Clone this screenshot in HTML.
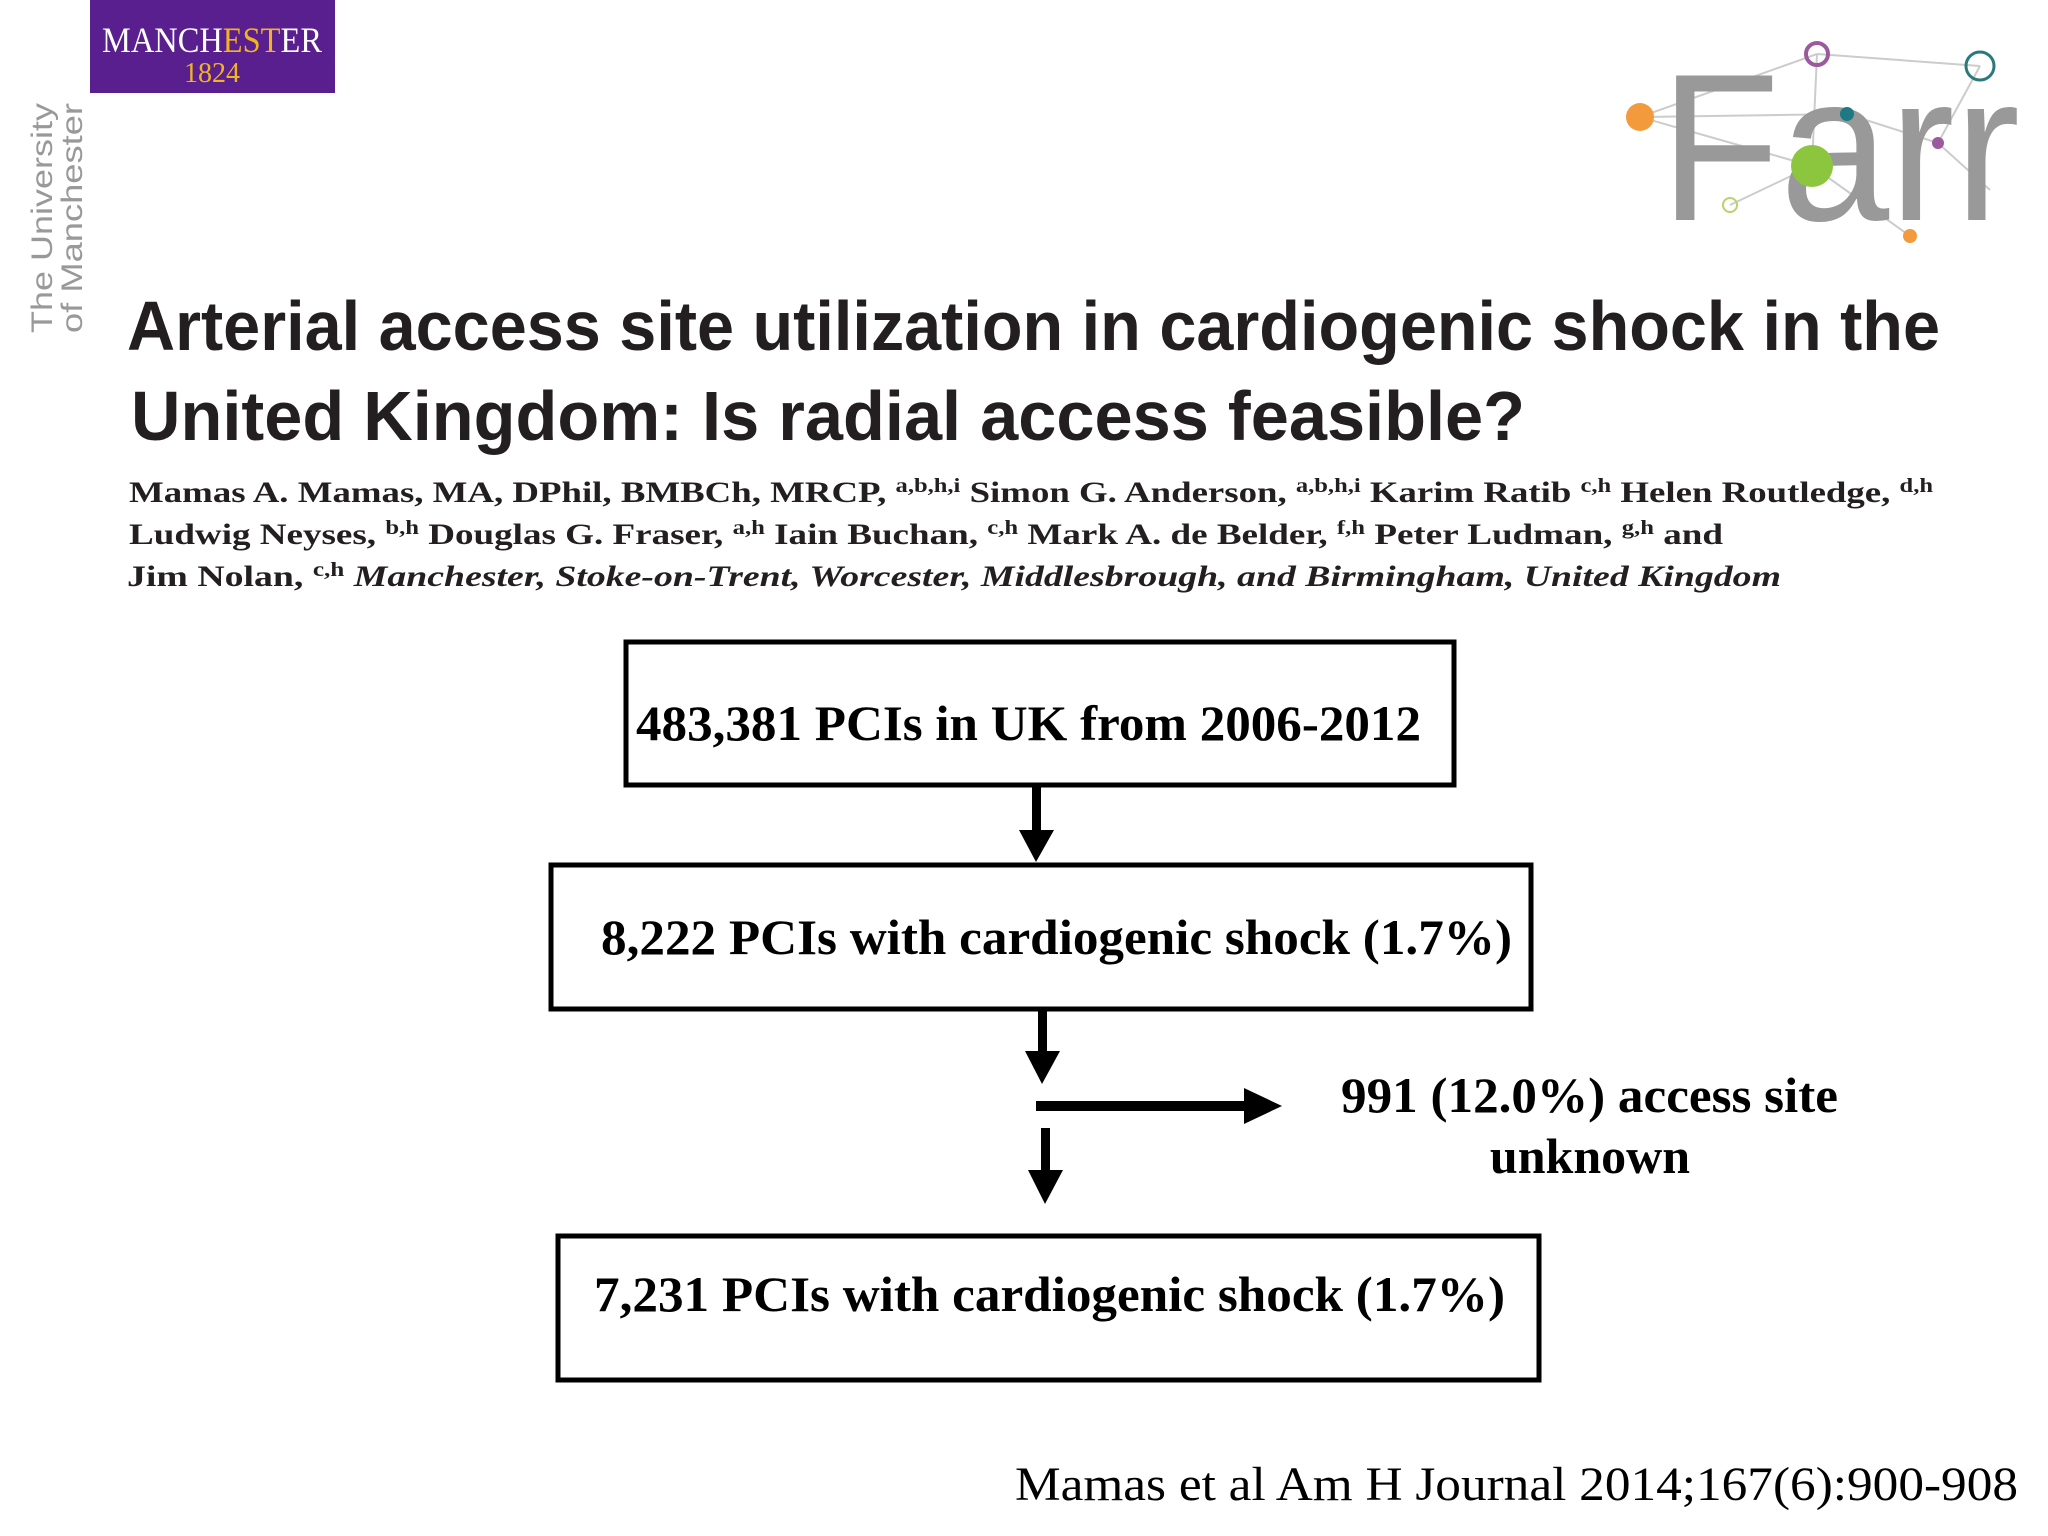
<!DOCTYPE html>
<html><head><meta charset="utf-8"><style>
html,body{margin:0;padding:0;background:#fff}
svg{display:block}
</style></head><body>
<svg width="2048" height="1536" viewBox="0 0 2048 1536" xmlns="http://www.w3.org/2000/svg">
<g>
<rect x="90" y="0" width="245" height="93" fill="#5a1f8f"/>
<text x="212" y="52" text-anchor="middle" font-family="Liberation Serif, serif" font-size="36" fill="#fff" textLength="220" lengthAdjust="spacingAndGlyphs">MANCH<tspan fill="#f0b323">EST</tspan>ER</text>
<text x="212" y="82" text-anchor="middle" font-family="Liberation Serif, serif" font-size="28" fill="#f0b323">1824</text>
</g>
<text transform="translate(52,333) rotate(-90)" font-family="Liberation Sans, sans-serif" font-size="30" fill="#999" textLength="230" lengthAdjust="spacingAndGlyphs">The University</text>
<text transform="translate(82,333) rotate(-90)" font-family="Liberation Sans, sans-serif" font-size="30" fill="#999" textLength="230" lengthAdjust="spacingAndGlyphs">of Manchester</text>
<g>
<g stroke="#ccc" stroke-width="2" fill="none">
<line x1="1640" y1="117" x2="1817" y2="54"/><line x1="1817" y1="54" x2="1980" y2="66"/><line x1="1640" y1="117" x2="1847" y2="114"/><line x1="1817" y1="54" x2="1812" y2="166"/><line x1="1847" y1="114" x2="1938" y2="143"/><line x1="1980" y1="66" x2="1938" y2="143"/><line x1="1730" y1="205" x2="1812" y2="166"/><line x1="1812" y1="166" x2="1910" y2="236"/><line x1="1938" y1="143" x2="1990" y2="190"/><line x1="1640" y1="117" x2="1812" y2="166"/>
</g>
<text x="1660" y="220" font-family="Liberation Sans, sans-serif" font-size="210" fill="#999" textLength="360" lengthAdjust="spacingAndGlyphs">Farr</text>
<circle cx="1640" cy="117" r="14" fill="#f39a3c"/>
<circle cx="1817" cy="54" r="11" fill="none" stroke="#9b5a9b" stroke-width="4"/>
<circle cx="1980" cy="66" r="14" fill="none" stroke="#2b7a7a" stroke-width="3"/>
<circle cx="1847" cy="114" r="7" fill="#1d7a85"/>
<circle cx="1812" cy="166" r="21" fill="#8cc63f"/>
<circle cx="1938" cy="143" r="6" fill="#9b5a9b"/>
<circle cx="1730" cy="205" r="7" fill="none" stroke="#b7d36b" stroke-width="2"/>
<circle cx="1910" cy="236" r="7" fill="#f39a3c"/>
</g>
<g font-family="Liberation Sans, sans-serif" font-weight="bold" fill="#231f20">
<text x="127" y="350" font-size="70" textLength="1813" lengthAdjust="spacingAndGlyphs">Arterial access site utilization in cardiogenic shock in the</text>
<text x="131" y="440" font-size="70" textLength="1394" lengthAdjust="spacingAndGlyphs">United Kingdom: Is radial access feasible?</text>
</g>
<g font-family="Liberation Serif, serif" font-weight="bold" fill="#231f20" font-size="30">
<text x="129" y="502" textLength="1804" lengthAdjust="spacingAndGlyphs">Mamas A. Mamas, MA, DPhil, BMBCh, MRCP, <tspan font-size="20" dy="-10">a,b,h,i</tspan><tspan dy="10"> Simon G. Anderson, </tspan><tspan font-size="20" dy="-10">a,b,h,i</tspan><tspan dy="10"> Karim Ratib </tspan><tspan font-size="20" dy="-10">c,h</tspan><tspan dy="10"> Helen Routledge, </tspan><tspan font-size="20" dy="-10">d,h</tspan></text>
<text x="129" y="544" textLength="1594" lengthAdjust="spacingAndGlyphs">Ludwig Neyses, <tspan font-size="20" dy="-10">b,h</tspan><tspan dy="10"> Douglas G. Fraser, </tspan><tspan font-size="20" dy="-10">a,h</tspan><tspan dy="10"> Iain Buchan, </tspan><tspan font-size="20" dy="-10">c,h</tspan><tspan dy="10"> Mark A. de Belder, </tspan><tspan font-size="20" dy="-10">f,h</tspan><tspan dy="10"> Peter Ludman, </tspan><tspan font-size="20" dy="-10">g,h</tspan><tspan dy="10"> and</tspan></text>
<text x="127" y="586" textLength="1654" lengthAdjust="spacingAndGlyphs">Jim Nolan, <tspan font-size="20" dy="-10">c,h</tspan><tspan dy="10" font-style="italic"> Manchester, Stoke-on-Trent, Worcester, Middlesbrough, and Birmingham, United Kingdom</tspan></text>
</g>
<g fill="none" stroke="#000" stroke-width="5">
<rect x="626" y="642" width="828" height="143"/>
<rect x="551" y="865" width="980" height="144"/>
<rect x="558" y="1236" width="981" height="144"/>
</g>
<g font-family="Liberation Serif, serif" font-weight="bold" font-size="50" fill="#000">
<text x="636" y="740" textLength="785" lengthAdjust="spacingAndGlyphs">483,381 PCIs in UK from 2006-2012</text>
<text x="601" y="954" textLength="911" lengthAdjust="spacingAndGlyphs">8,222 PCIs with cardiogenic shock (1.7%)</text>
<text x="594" y="1311" textLength="911" lengthAdjust="spacingAndGlyphs">7,231 PCIs with cardiogenic shock (1.7%)</text>
<text x="1341" y="1112" textLength="497" lengthAdjust="spacingAndGlyphs">991 (12.0%) access site</text>
<text x="1590" y="1173" text-anchor="middle">unknown</text>
</g>
<g fill="#000">
<rect x="1032" y="787" width="9" height="45"/><polygon points="1019,830 1054,830 1036,862"/>
<rect x="1038" y="1011" width="9" height="42"/><polygon points="1025,1051 1060,1051 1042,1084"/>
<rect x="1036" y="1101" width="210" height="10"/><polygon points="1244,1088 1282,1106 1244,1124"/>
<rect x="1041" y="1128" width="9" height="44"/><polygon points="1028,1170 1063,1170 1045,1204"/>
</g>
<text x="2018" y="1500" text-anchor="end" font-family="Liberation Serif, serif" font-size="48" fill="#000" textLength="1003" lengthAdjust="spacingAndGlyphs">Mamas et al Am H Journal 2014;167(6):900-908</text>
</svg>
</body></html>
